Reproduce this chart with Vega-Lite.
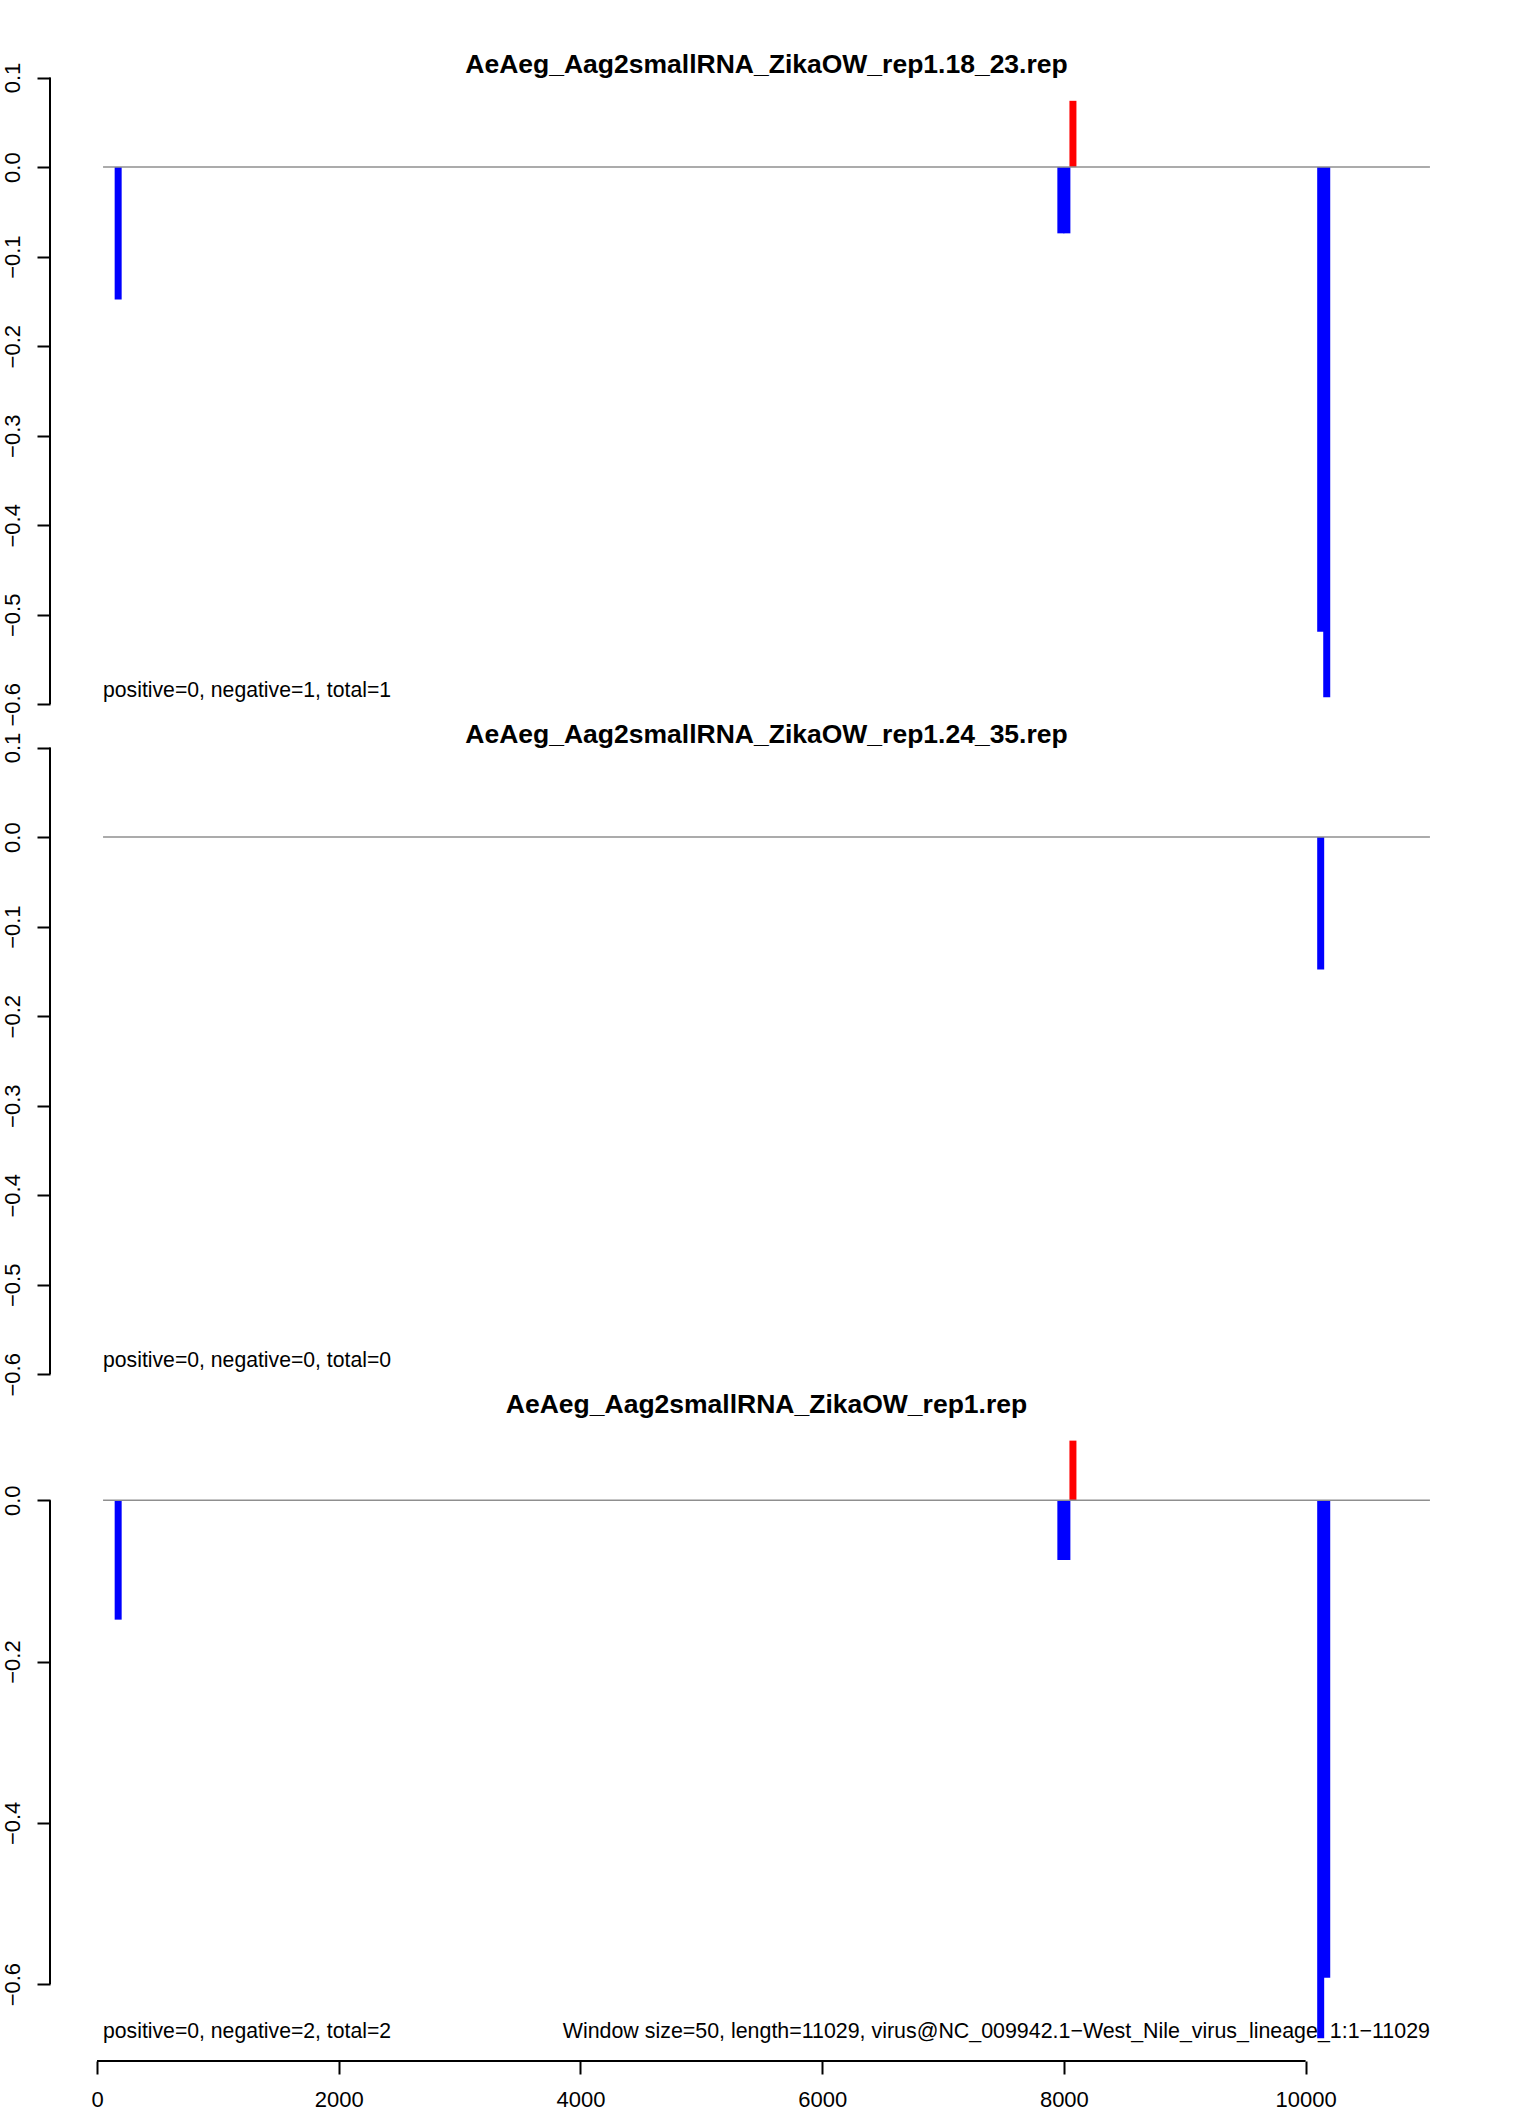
{
  "$schema": "https://vega.github.io/schema/vega-lite/v6.json",
  "background": "white",
  "padding": {"left": 0, "top": 52, "right": 0, "bottom": 0},
  "spacing": 26,
  "bounds": "flush",
  "resolve": {"scale": {"x": "independent", "y": "independent"}},
  "config": {
    "font": "Liberation Sans",
    "view": {"stroke": null},
    "title": {"font": "Liberation Sans", "fontSize": 26.5, "fontWeight": "bold", "color": "black", "anchor": "middle", "baseline": "alphabetic"},
    "axis": {"grid": false, "domain": false, "tickColor": "black", "tickWidth": 2, "tickSize": 13, "labelColor": "black", "labelFont": "Liberation Sans", "labelFontSize": 22, "labelOverlap": false, "labelFlush": false, "title": null}
  },
  "datasets": {
    "one": [{"k": 1}],
    "windows": [
      {"panel": "18_23", "position": 175, "value": -0.148, "strand": "negative"},
      {"panel": "18_23", "position": 7975, "value": -0.074, "strand": "negative"},
      {"panel": "18_23", "position": 8025, "value": -0.074, "strand": "negative"},
      {"panel": "18_23", "position": 8075, "value": 0.074, "strand": "positive"},
      {"panel": "18_23", "position": 10125, "value": -0.519, "strand": "negative"},
      {"panel": "18_23", "position": 10175, "value": -0.592, "strand": "negative"},
      {"panel": "24_35", "position": 10125, "value": -0.148, "strand": "negative"},
      {"panel": "all", "position": 175, "value": -0.148, "strand": "negative"},
      {"panel": "all", "position": 7975, "value": -0.074, "strand": "negative"},
      {"panel": "all", "position": 8025, "value": -0.074, "strand": "negative"},
      {"panel": "all", "position": 8075, "value": 0.074, "strand": "positive"},
      {"panel": "all", "position": 10125, "value": -0.667, "strand": "negative"},
      {"panel": "all", "position": 10175, "value": -0.592, "strand": "negative"}
    ],
    "notes": [
      {"panel": "18_23", "side": "left", "label": "positive=0, negative=1, total=1"},
      {"panel": "24_35", "side": "left", "label": "positive=0, negative=0, total=0"},
      {"panel": "all", "side": "left", "label": "positive=0, negative=2, total=2"},
      {"panel": "all", "side": "right", "label": "Window size=50, length=11029, virus@NC_009942.1−West_Nile_virus_lineage_1:1−11029"}
    ]
  },
  "vconcat": [
    {
      "title": {"text": "AeAeg_Aag2smallRNA_ZikaOW_rep1.18_23.rep", "offset": -16.5},
      "width": 1433,
      "height": 644,
      "layer": [
        {
          "data": {"name": "windows"},
          "transform": [{"filter": "datum.panel === '18_23'"}],
          "mark": {"type": "rule", "strokeWidth": 7},
          "encoding": {
            "x": {"field": "position", "type": "quantitative", "scale": {"domain": [-389, 11468], "nice": false, "zero": false}, "axis": null},
            "y": {"field": "value", "type": "quantitative", "scale": {"domain": [-0.6186, 0.1006], "nice": false, "zero": false},
                  "axis": {"values": [0.1, 0, -0.1, -0.2, -0.3, -0.4, -0.5, -0.6], "format": ".1f", "labelAngle": -90, "labelAlign": "center", "labelBaseline": "bottom", "labelPadding": 13}},
            "y2": {"datum": 0},
            "color": {"field": "strand", "type": "nominal", "scale": {"domain": ["positive", "negative"], "range": ["#FF0000", "#0000FF"]}, "legend": null}
          }
        },
        {
          "data": {"name": "one"},
          "mark": {"type": "rule", "color": "#8f8f8f", "strokeWidth": 1.5},
          "encoding": {
            "x": {"datum": 50, "type": "quantitative"},
            "x2": {"datum": 11029},
            "y": {"datum": 0, "type": "quantitative"}
          }
        },
        {
          "data": {"name": "one"},
          "mark": {"type": "rule", "color": "black", "strokeWidth": 2},
          "encoding": {
            "x": {"datum": -389, "type": "quantitative"},
            "y": {"datum": -0.6, "type": "quantitative"},
            "y2": {"datum": 0.1}
          }
        },
        {
          "data": {"name": "notes"},
          "transform": [{"filter": "datum.panel === '18_23' && datum.side === 'left'"}],
          "mark": {"type": "text", "align": "left", "baseline": "alphabetic", "fontSize": 21.2, "color": "black"},
          "encoding": {
            "x": {"datum": 50, "type": "quantitative"},
            "y": {"datum": -0.592, "type": "quantitative"},
            "text": {"field": "label"}
          }
        }
      ]
    },
    {
      "title": {"text": "AeAeg_Aag2smallRNA_ZikaOW_rep1.24_35.rep", "offset": -16.5},
      "width": 1433,
      "height": 644,
      "layer": [
        {
          "data": {"name": "windows"},
          "transform": [{"filter": "datum.panel === '24_35'"}],
          "mark": {"type": "rule", "strokeWidth": 7},
          "encoding": {
            "x": {"field": "position", "type": "quantitative", "scale": {"domain": [-389, 11468], "nice": false, "zero": false}, "axis": null},
            "y": {"field": "value", "type": "quantitative", "scale": {"domain": [-0.6186, 0.1006], "nice": false, "zero": false},
                  "axis": {"values": [0.1, 0, -0.1, -0.2, -0.3, -0.4, -0.5, -0.6], "format": ".1f", "labelAngle": -90, "labelAlign": "center", "labelBaseline": "bottom", "labelPadding": 13}},
            "y2": {"datum": 0},
            "color": {"field": "strand", "type": "nominal", "scale": {"domain": ["positive", "negative"], "range": ["#FF0000", "#0000FF"]}, "legend": null}
          }
        },
        {
          "data": {"name": "one"},
          "mark": {"type": "rule", "color": "#8f8f8f", "strokeWidth": 1.5},
          "encoding": {
            "x": {"datum": 50, "type": "quantitative"},
            "x2": {"datum": 11029},
            "y": {"datum": 0, "type": "quantitative"}
          }
        },
        {
          "data": {"name": "one"},
          "mark": {"type": "rule", "color": "black", "strokeWidth": 2},
          "encoding": {
            "x": {"datum": -389, "type": "quantitative"},
            "y": {"datum": -0.6, "type": "quantitative"},
            "y2": {"datum": 0.1}
          }
        },
        {
          "data": {"name": "notes"},
          "transform": [{"filter": "datum.panel === '24_35' && datum.side === 'left'"}],
          "mark": {"type": "text", "align": "left", "baseline": "alphabetic", "fontSize": 21.2, "color": "black"},
          "encoding": {
            "x": {"datum": 50, "type": "quantitative"},
            "y": {"datum": -0.592, "type": "quantitative"},
            "text": {"field": "label"}
          }
        }
      ]
    },
    {
      "title": {"text": "AeAeg_Aag2smallRNA_ZikaOW_rep1.rep", "offset": -1.5},
      "width": 1433,
      "height": 644,
      "layer": [
        {
          "data": {"name": "windows"},
          "transform": [{"filter": "datum.panel === 'all'"}],
          "mark": {"type": "rule", "strokeWidth": 7},
          "encoding": {
            "x": {"field": "position", "type": "quantitative", "scale": {"domain": [-389, 11468], "nice": false, "zero": false},
                  "axis": {"orient": "bottom", "values": [0, 2000, 4000, 6000, 8000, 10000], "format": "d", "labelPadding": 15}},
            "y": {"field": "value", "type": "quantitative", "scale": {"domain": [-0.6953, 0.1033], "nice": false, "zero": false},
                  "axis": {"values": [0, -0.2, -0.4, -0.6], "format": ".1f", "labelAngle": -90, "labelAlign": "center", "labelBaseline": "bottom", "labelPadding": 13}},
            "y2": {"datum": 0},
            "color": {"field": "strand", "type": "nominal", "scale": {"domain": ["positive", "negative"], "range": ["#FF0000", "#0000FF"]}, "legend": null}
          }
        },
        {
          "data": {"name": "one"},
          "mark": {"type": "rule", "color": "#8f8f8f", "strokeWidth": 1.5},
          "encoding": {
            "x": {"datum": 50, "type": "quantitative"},
            "x2": {"datum": 11029},
            "y": {"datum": 0, "type": "quantitative"}
          }
        },
        {
          "data": {"name": "one"},
          "mark": {"type": "rule", "color": "black", "strokeWidth": 2},
          "encoding": {
            "x": {"datum": -389, "type": "quantitative"},
            "y": {"datum": -0.6, "type": "quantitative"},
            "y2": {"datum": 0}
          }
        },
        {
          "data": {"name": "one"},
          "mark": {"type": "rule", "color": "black", "strokeWidth": 2},
          "encoding": {
            "x": {"datum": 0, "type": "quantitative"},
            "x2": {"datum": 10000},
            "y": {"datum": -0.6953, "type": "quantitative"}
          }
        },
        {
          "data": {"name": "notes"},
          "transform": [{"filter": "datum.panel === 'all' && datum.side === 'left'"}],
          "mark": {"type": "text", "align": "left", "baseline": "alphabetic", "fontSize": 21.2, "color": "black"},
          "encoding": {
            "x": {"datum": 50, "type": "quantitative"},
            "y": {"datum": -0.667, "type": "quantitative"},
            "text": {"field": "label"}
          }
        },
        {
          "data": {"name": "notes"},
          "transform": [{"filter": "datum.panel === 'all' && datum.side === 'right'"}],
          "mark": {"type": "text", "align": "right", "baseline": "alphabetic", "fontSize": 21.4, "color": "black"},
          "encoding": {
            "x": {"datum": 11029, "type": "quantitative"},
            "y": {"datum": -0.667, "type": "quantitative"},
            "text": {"field": "label"}
          }
        }
      ]
    }
  ]
}
